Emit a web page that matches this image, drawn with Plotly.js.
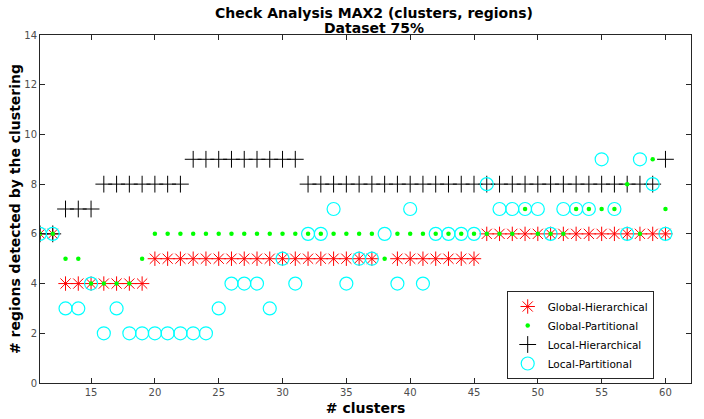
<!DOCTYPE html>
<html><head><meta charset="utf-8">
<script src="https://cdn.plot.ly/plotly-3.0.1.min.js"></script>
<style>html,body{margin:0;padding:0;background:#fff;}#chart{width:704px;height:419px;}</style>
</head><body><div id="chart"></div>
<script>
const clusters = [11,12,13,14,15,16,17,18,19,20,21,22,23,24,25,26,27,28,29,30,31,32,33,34,35,36,37,38,39,40,41,42,43,44,45,46,47,48,49,50,51,52,53,54,55,56,57,58,59,60];
const globalHierarchical = [6,6,4,4,4,4,4,4,4,5,5,5,5,5,5,5,5,5,5,5,5,5,5,5,5,5,5,null,5,5,5,5,5,5,5,6,6,6,6,6,6,6,6,6,6,6,6,6,6,6];
const globalPartitional = [6,6,5,5,4,4,4,4,5,6,6,6,6,6,6,6,6,6,6,6,6,6,6,6,6,6,6,5,6,6,6,6,6,6,6,6,6,6,7,6,6,6,7,7,7,7,8,6,9,7];
const localHierarchical = [6,6,7,7,7,8,8,8,8,8,8,8,9,9,9,9,9,9,9,9,9,8,8,8,8,8,8,8,8,8,8,8,8,8,8,8,8,8,8,8,8,8,8,8,8,8,8,8,8,9];
const localPartitional = [6,6,3,3,4,2,3,2,2,2,2,2,2,2,3,4,4,4,3,5,4,6,6,7,4,5,5,6,4,7,4,6,6,6,6,8,7,7,7,7,6,7,7,7,9,7,6,9,8,6];
const seriesNames = ['Global-Hierarchical','Global-Partitional','Local-Hierarchical','Local-Partitional'];
const xTicks = [15,20,25,30,35,40,45,50,55,60];
const yTicks = [0,2,4,6,8,10,12,14];

const traces = [
  {x: clusters, y: globalHierarchical, name: seriesNames[0], type:'scatter', mode:'markers', legendrank:1,
   marker:{symbol:'asterisk-open', size:12, color:'#ff0000', line:{color:'#ff0000', width:1}}},
  {x: clusters, y: localHierarchical, name: seriesNames[2], type:'scatter', mode:'markers', legendrank:3,
   marker:{symbol:'cross-thin-open', size:12, color:'#000000', line:{color:'#000000', width:1}}},
  {x: clusters, y: localPartitional, name: seriesNames[3], type:'scatter', mode:'markers', legendrank:4,
   marker:{symbol:'circle-open', size:13, color:'#00ffff', line:{color:'#00ffff', width:1.2}}},
  {x: clusters, y: globalPartitional, name: seriesNames[1], type:'scatter', mode:'markers', legendrank:2,
   marker:{symbol:'circle', size:4.5, color:'#00ff00'}}
];

const axisCommon = {
  showgrid:false, zeroline:false, showline:true, linecolor:'#262626', linewidth:1,
  mirror:'allticks', ticks:'inside', ticklen:5, tickcolor:'#262626', tickwidth:1,
  tickfont:{family:'DejaVu Sans', size:10, color:'#4d4d4d'}
};

const layout = {
  width:704, height:419,
  margin:{l:40, r:13, t:35, b:36, pad:0},
  paper_bgcolor:'#ffffff', plot_bgcolor:'#ffffff',
  showlegend:true,
  title:{text:'Check Analysis MAX2 (clusters, regions)', font:{family:'DejaVu Sans', size:14, color:'#000', weight:'bold'},
         x:374/704, xanchor:'center', xref:'container', y:1-8/419, yanchor:'top', yref:'container'},
  annotations:[{text:'Dataset 75%', xref:'paper', yref:'paper', x:(374-40)/651, y:(383-28)/348, xanchor:'center', yanchor:'middle',
    showarrow:false, font:{family:'DejaVu Sans', size:14, color:'#000', weight:'bold'}}],
  xaxis: Object.assign({}, axisCommon, {range:[11,62], tickvals:xTicks, ticktext:xTicks.map(String),
    title:{text:'# clusters', font:{family:'DejaVu Sans', size:14, color:'#000', weight:'bold'}, standoff:6}}),
  yaxis: Object.assign({}, axisCommon, {range:[0,14], tickvals:yTicks, ticktext:yTicks.map(String),
    title:{text:'# regions detected by the clustering', font:{family:'DejaVu Sans', size:14, color:'#000', weight:'bold'}, standoff:0}}),
  legend:{x:(506.7-40)/651, y:(383-291)/348, xanchor:'left', yanchor:'top', bgcolor:'#ffffff', bordercolor:'#262626', borderwidth:1,
    font:{family:'DejaVu Sans', size:10.5, color:'#000'}, tracegroupgap:0, itemwidth:30}
};

Plotly.newPlot('chart', traces, layout, {displayModeBar:false, staticPlot:true});
</script>
</body></html>
